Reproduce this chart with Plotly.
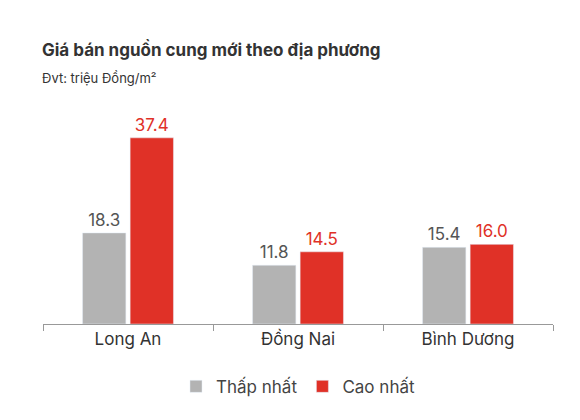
import plotly.graph_objects as go

regions = ["Long An", "Đồng Nai", "Bình Dương"]
low_price = [18.3, 11.8, 15.4]
high_price = [37.4, 14.5, 16.0]

fig = go.Figure()
fig.add_trace(go.Bar(
    x=regions, y=low_price, name="Thấp nhất",
    marker_color="#b3b3b3",
    text=[f"{v:.1f}" for v in low_price], textposition="outside",
    textfont=dict(color="#555555", size=17), cliponaxis=False
))
fig.add_trace(go.Bar(
    x=regions, y=high_price, name="Cao nhất",
    marker_color="#e03127",
    text=[f"{v:.1f}" for v in high_price], textposition="outside",
    textfont=dict(color="#e03127", size=17), cliponaxis=False
))

fig.update_layout(
    width=580, height=420,
    margin=dict(l=35, r=35, t=92, b=104),
    paper_bgcolor="white", plot_bgcolor="white",
    font=dict(family="Inter, Roboto, sans-serif", color="#333333"),
    barmode="group", bargap=0.44, bargroupgap=0.09,
    showlegend=True,
    legend=dict(orientation="h", x=0.5, xanchor="center", y=-0.2, yanchor="top",
                font=dict(size=17, color="#444444"), itemwidth=30),
    annotations=[
        dict(text="<b>Giá bán nguồn cung mới theo địa phương</b>", xref="paper", yref="paper",
             x=-0.005, y=1.0, yshift=38, xanchor="left", yanchor="bottom", showarrow=False,
             font=dict(size=17, color="#333333")),
        dict(text="Đvt: triệu Đồng/m²", xref="paper", yref="paper",
             x=-0.005, y=1.0, yshift=12, xanchor="left", yanchor="bottom", showarrow=False,
             font=dict(size=13, color="#333333")),
    ],
)
fig.update_xaxes(showline=True, linecolor="#999999", ticks="outside", tickson="boundaries",
                 ticklen=6, tickcolor="#999999", tickfont=dict(size=17, color="#333333"))
fig.update_yaxes(visible=False, range=[0, 45])

fig.write_html("out.html")
